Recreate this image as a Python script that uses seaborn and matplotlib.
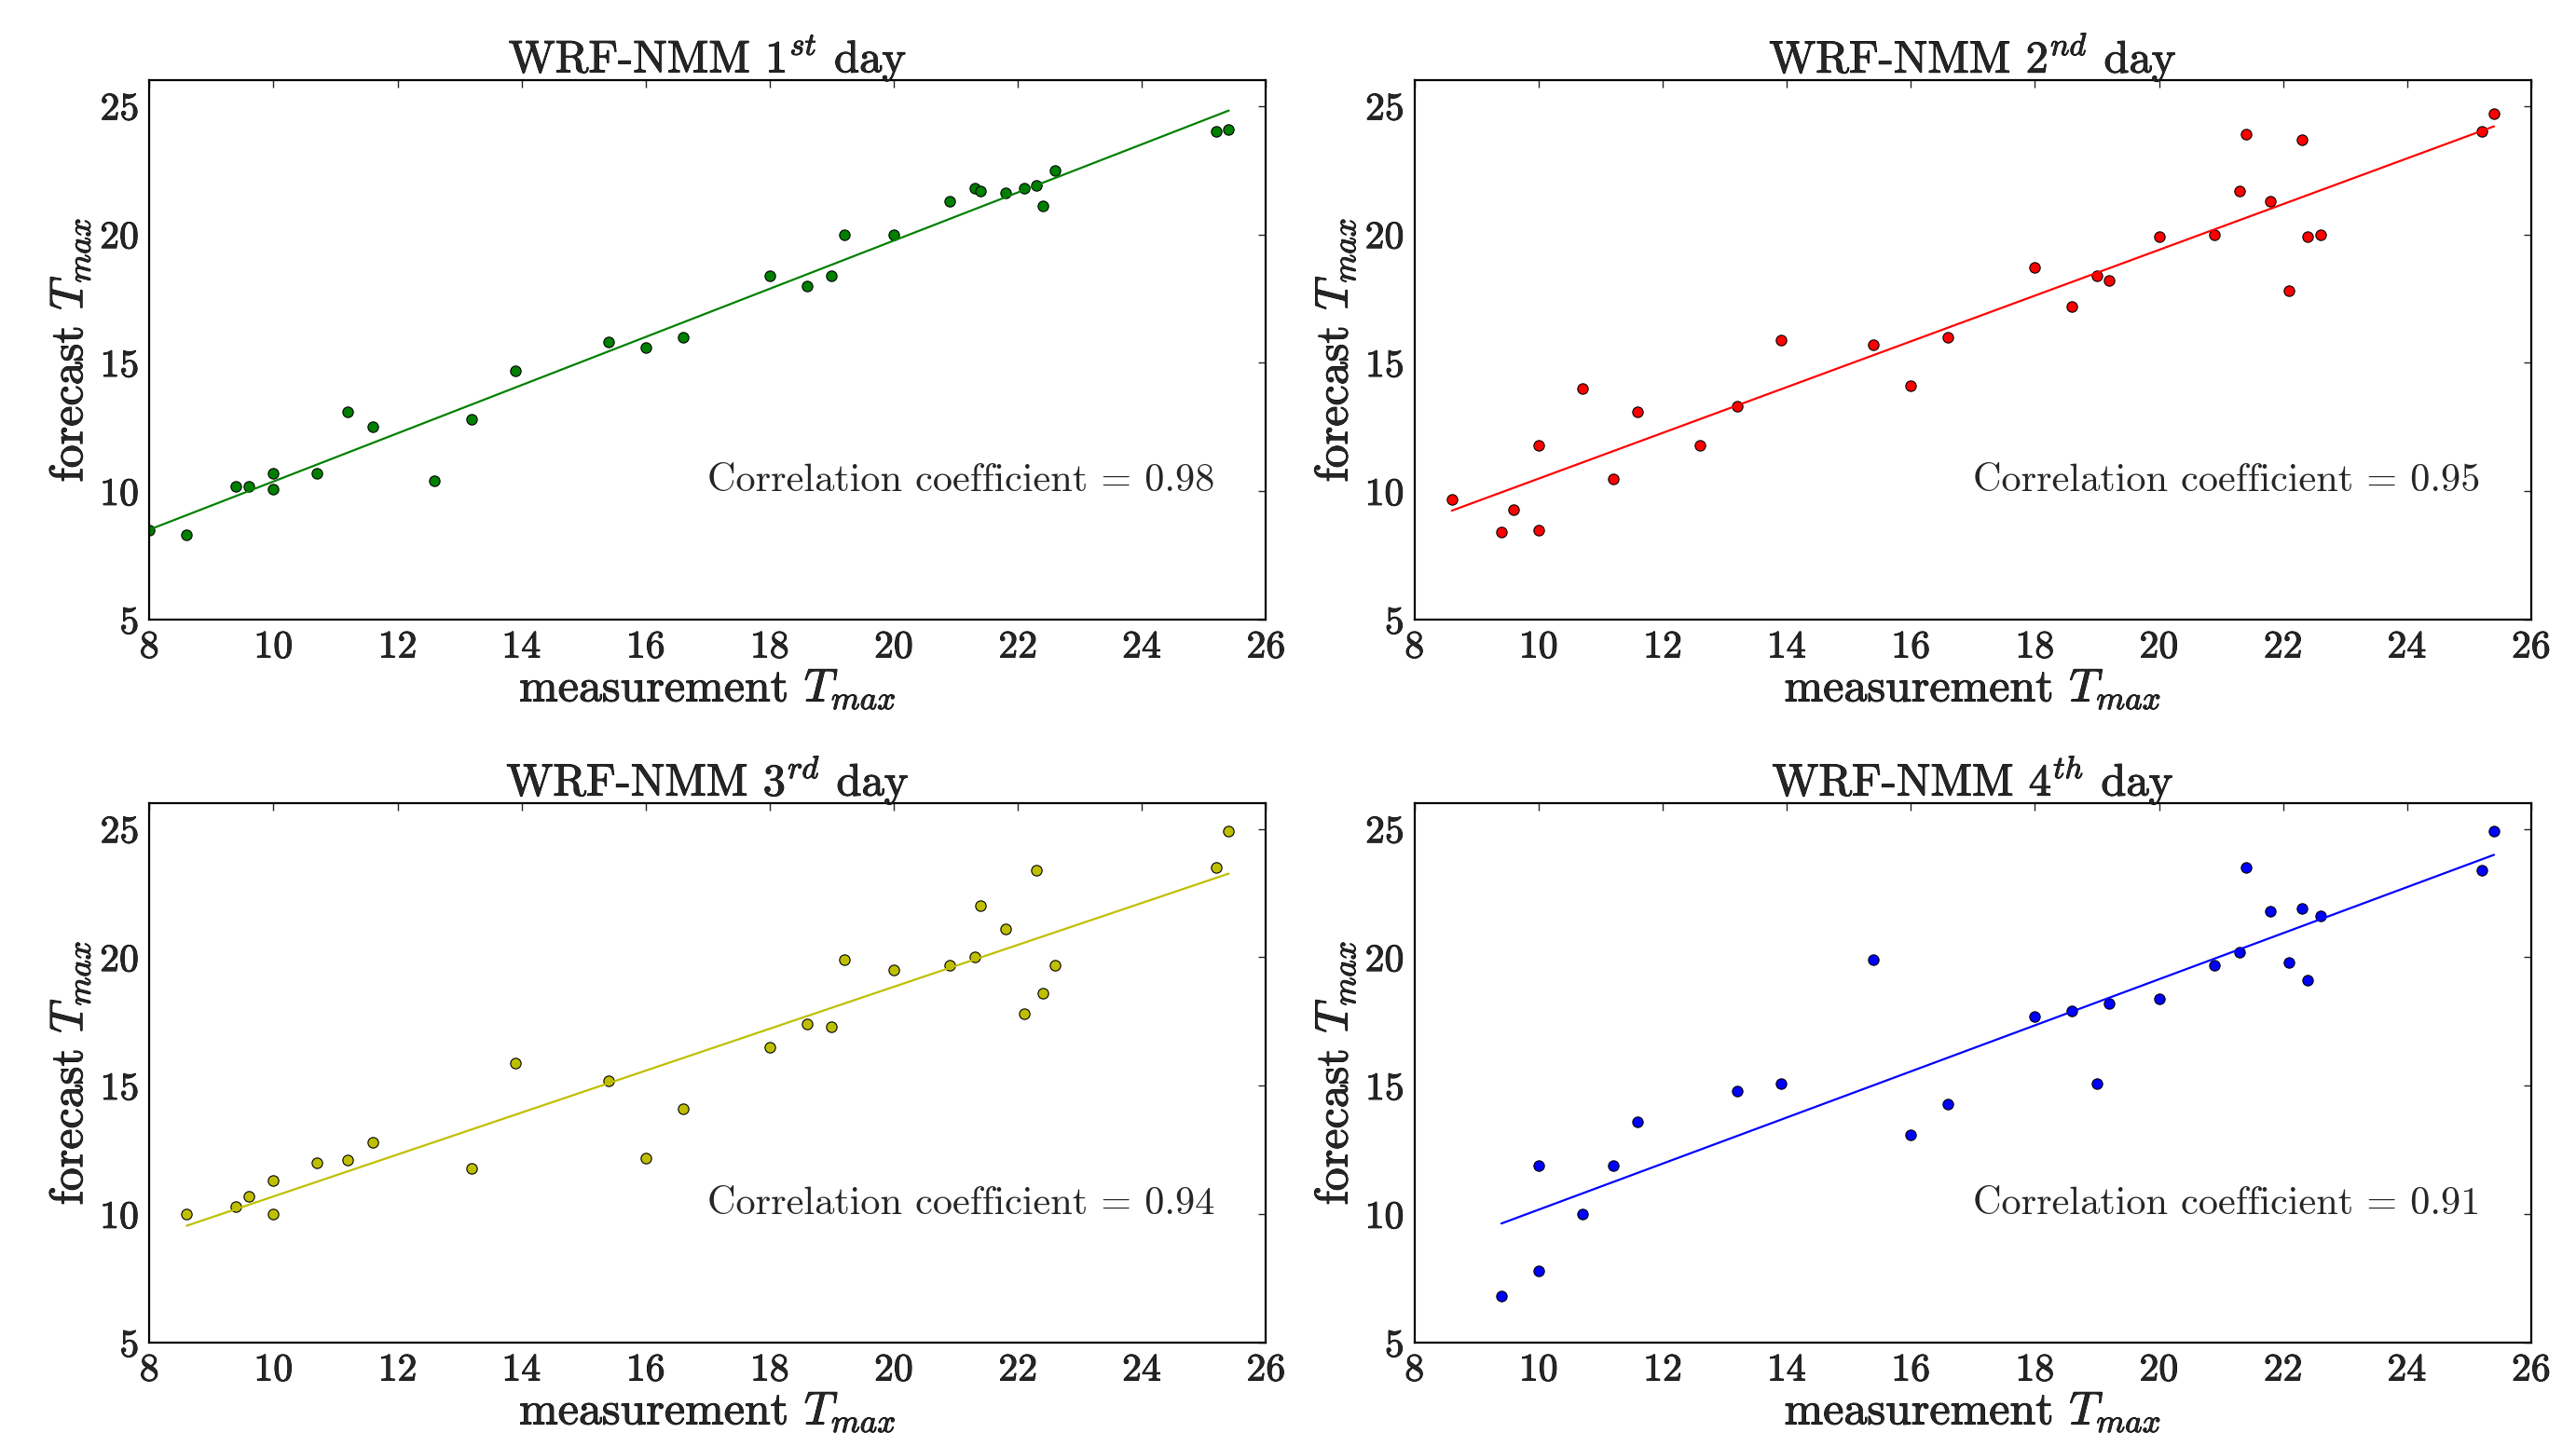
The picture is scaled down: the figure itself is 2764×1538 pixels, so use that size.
import numpy as np
import pandas as pd
import matplotlib
matplotlib.use("Agg")
import matplotlib.pyplot as plt
import matplotlib.patheffects as pe
import seaborn as sns

# measured vs forecast Tmax, one list pair per forecast day
meas_day1 = [8.0, 8.6, 9.4, 9.6, 10.0, 10.0, 10.7, 11.2, 11.6, 12.6, 13.2, 13.9, 15.4, 16.0, 16.6,
             18.0, 18.6, 19.0, 19.2, 20.0, 20.9, 21.3, 21.4, 21.8, 22.1, 22.3, 22.4, 22.6, 25.2, 25.4]
fcst_day1 = [8.5, 8.3, 10.2, 10.2, 10.7, 10.1, 10.7, 13.1, 12.5, 10.4, 12.8, 14.7, 15.8, 15.6, 16.0,
             18.4, 18.0, 18.4, 20.0, 20.0, 21.3, 21.8, 21.7, 21.6, 21.8, 21.9, 21.1, 22.5, 24.0, 24.1]

meas_day2 = [8.6, 9.4, 9.6, 10.0, 10.0, 10.7, 11.2, 11.6, 12.6, 13.2, 13.9, 15.4, 16.0, 16.6,
             18.0, 18.6, 19.0, 19.2, 20.0, 20.9, 21.3, 21.4, 21.8, 22.1, 22.3, 22.4, 22.6, 25.2, 25.4]
fcst_day2 = [9.7, 8.4, 9.3, 11.8, 8.5, 14.0, 10.5, 13.1, 11.8, 13.3, 15.9, 15.7, 14.1, 16.0,
             18.7, 17.2, 18.4, 18.2, 19.9, 20.0, 21.7, 23.9, 21.3, 17.8, 23.7, 19.9, 20.0, 24.0, 24.7]

meas_day3 = [8.6, 9.4, 9.6, 10.0, 10.0, 10.7, 11.2, 11.6, 13.2, 13.9, 15.4, 16.0, 16.6,
             18.0, 18.6, 19.0, 19.2, 20.0, 20.9, 21.3, 21.4, 21.8, 22.1, 22.3, 22.4, 22.6, 25.2, 25.4]
fcst_day3 = [10.0, 10.3, 10.7, 11.3, 10.0, 12.0, 12.1, 12.8, 11.8, 15.9, 15.2, 12.2, 14.1,
             16.5, 17.4, 17.3, 19.9, 19.5, 19.7, 20.0, 22.0, 21.1, 17.8, 23.4, 18.6, 19.7, 23.5, 24.9]

meas_day4 = [9.4, 10.0, 10.0, 10.7, 11.2, 11.6, 13.2, 13.9, 15.4, 16.0, 16.6,
             18.0, 18.6, 19.0, 19.2, 20.0, 20.9, 21.3, 21.4, 21.8, 22.1, 22.3, 22.4, 22.6, 25.2, 25.4]
fcst_day4 = [6.8, 11.9, 7.8, 10.0, 11.9, 13.6, 14.8, 15.1, 19.9, 13.1, 14.3,
             17.7, 17.9, 15.1, 18.2, 18.4, 19.7, 20.2, 23.5, 21.8, 19.8, 21.9, 19.1, 21.6, 23.4, 24.9]

day_labels = ["1^{st}", "2^{nd}", "3^{rd}", "4^{th}"]
corr_labels = ["0.98", "0.95", "0.94", "0.91"]
colors = ["#008000", "#ff0000", "#bfbf00", "#0000ff"]

x_ticks = [8, 10, 12, 14, 16, 18, 20, 22, 24, 26]
y_ticks = [5, 10, 15, 20, 25]

# slightly heavier text, like the original render
heavy = [pe.withStroke(linewidth=0.7, foreground="black")]


def plot_day(ax, meas, fcst, day, corr, color):
    df = pd.DataFrame({"measurement": meas, "forecast": fcst})
    sns.regplot(x="measurement", y="forecast", data=df, ax=ax, ci=None, truncate=True,
                color=color,
                scatter_kws={"s": 66, "edgecolor": "black", "linewidths": 0.8, "alpha": 1},
                line_kws={"linewidth": 1.6})

    ax.set_xlim(8, 26)
    ax.set_ylim(5, 26)
    ax.set_xticks(x_ticks)
    ax.set_yticks(y_ticks)
    ax.tick_params(direction="in", top=True, right=True, length=6, width=1,
                   labelsize=30, pad=8)
    for lab in ax.get_xticklabels() + ax.get_yticklabels():
        lab.set_family("cmr10")
        lab.set_path_effects(heavy)
    for sp in ax.spines.values():
        sp.set_linewidth(1.6)

    t = ax.set_title(r"WRF-NMM $%s$ day" % day, fontsize=35, family="cmr10", pad=6)
    xl = ax.set_xlabel(r"measurement $T_{max}$", fontsize=36, family="cmr10", labelpad=2)
    yl = ax.set_ylabel(r"forecast $T_{max}$", fontsize=36, family="cmr10", labelpad=6)
    for txt in (t, xl, yl):
        txt.set_path_effects(heavy)
    ax.text(17.0, 10.0, "Correlation coefficient = %s" % corr, fontsize=30.5,
            family="cmr10", ha="left", va="baseline")


def main():
    sns.set_style("white")
    plt.rcParams["font.family"] = ["cmr10", "DejaVu Serif"]
    plt.rcParams["mathtext.fontset"] = "cm"
    plt.rcParams["axes.formatter.use_mathtext"] = True
    plt.rcParams["axes.edgecolor"] = "black"

    fig, axes = plt.subplots(2, 2, figsize=(27.64, 15.38), dpi=100)
    fig.subplots_adjust(left=0.058, right=0.9826, bottom=0.063, top=0.944,
                        wspace=0.133, hspace=0.34)

    data = [(meas_day1, fcst_day1), (meas_day2, fcst_day2),
            (meas_day3, fcst_day3), (meas_day4, fcst_day4)]
    for i, ax in enumerate(axes.flat):
        meas, fcst = data[i]
        plot_day(ax, meas, fcst, day_labels[i], corr_labels[i], colors[i])

    fig.savefig("out.png", dpi=100, facecolor="white")


if __name__ == "__main__":
    main()
